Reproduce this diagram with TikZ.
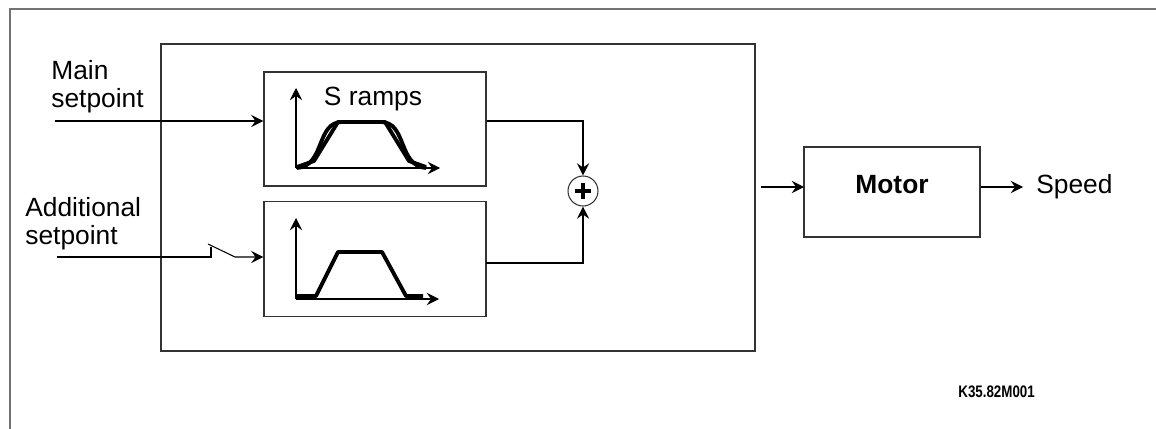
\documentclass[tikz,border=0pt]{standalone}
\usepackage{fontspec}
\setmainfont{Liberation Sans}
\usepackage{tikz}
\usetikzlibrary{positioning, arrows.meta}

\begin{document}
\begin{tikzpicture}[x=0.02cm, y=-0.02cm, >={Stealth[length=7pt, width=7pt, inset=2.5pt]},
    block/.style={draw=black!80, line width=0.7pt, inner sep=0pt},
    lbl/.style={font=\fontsize{15}{15.9}\selectfont, align=left, inner sep=0pt},
    arrow/.style={->, line width=0.6pt},
    axis/.style={->, line width=0.6pt},
    ramp/.style={line width=2.2pt, line join=round}]
    \useasboundingbox (0,0) rectangle (1156,429);
    \draw[black!55, line width=0.7pt] (1156,9) -- (10,9) -- (10,429);
    % blocks
    \node[block, minimum width=11.88cm, minimum height=6.14cm] (setpoints) at (458,197.5) {};
    \node[block, minimum width=4.44cm, minimum height=2.28cm] (mainramp) at (375,129) {};
    \node[block, minimum width=4.44cm, minimum height=2.3cm, below=0.28cm of mainramp] (addramp) {};
    \node[draw=black!80, circle, line width=0.6pt, minimum size=0.6cm, inner sep=0pt] (sum) at (583,191) {};
    \draw[line width=2.2pt] (sum.center) ++(-8,0) -- ++(16,0);
    \draw[line width=2.2pt] (sum.center) ++(0,-8) -- ++(0,16);
    \node[block, minimum width=3.52cm, minimum height=1.8cm, text depth=0.3cm,
        font=\fontsize{15}{15.9}\selectfont\bfseries] (motor) at (892,192) {Motor};
    % labels
    \node[lbl, anchor=west] (mainsp) at (51,87) {Main\\setpoint};
    \node[lbl, anchor=west] (addsp) at (25,224) {Additional\\setpoint};
    \node[lbl, anchor=base] (sramps) at (373,106) {S ramps};
    \node[lbl, anchor=base west] (speed) at (1036,194) {Speed};
    \node[inner sep=0pt, anchor=base west, font=\fontsize{9.5}{10}\selectfont\bfseries] (code) at (958,397)
        {\scalebox{0.8}[1]{K35.82M001}};
    % ramp graphs
    \draw[axis] (296,168) -- (296,88);
    \draw[axis] (296,168) -- (440,168);
    \draw[ramp] (297,167) -- (314,161) -- (338,122) -- (385,122) -- (409,161) -- (426,167);
    \draw[ramp] (297,168) .. controls (325,166) and (316,122) .. (342,122) -- (381,122)
        .. controls (407,122) and (398,166) .. (426,168);
    \draw[axis] (296,299) -- (296,218);
    \draw[axis] (296,299) -- (439,299);
    \draw[ramp] (297,296) -- (316,296) -- (338,252) -- (382,252) -- (406,296) -- (423,296);
    % connectors
    \coordinate (mainin) at (55,121);
    \coordinate (addin) at (57,257);
    \coordinate (swpivot) at (211,257);
    \coordinate (swtip) at (208,244);
    \coordinate (swend) at (235,257);
    \coordinate (addout) at (486,263);
    \coordinate (motorin) at (804,187);
    \draw[arrow] (mainin) -- (mainin -| mainramp.west);
    \draw[line width=0.6pt] (addin) -- (swpivot) -- ++(0,-10);
    \draw[arrow] (swtip) -- (swend) -- (swend -| addramp.west);
    \draw[arrow] (mainin -| mainramp.east) -| (sum.north);
    \draw[arrow] (addout) -| (sum.south);
    \draw[arrow, shorten <=0.1cm] (motorin -| setpoints.east) -- (motorin);
    \draw[arrow, shorten >=0.26cm] (motorin -| motor.east) -- (motorin -| speed.west);
\end{tikzpicture}
\end{document}
